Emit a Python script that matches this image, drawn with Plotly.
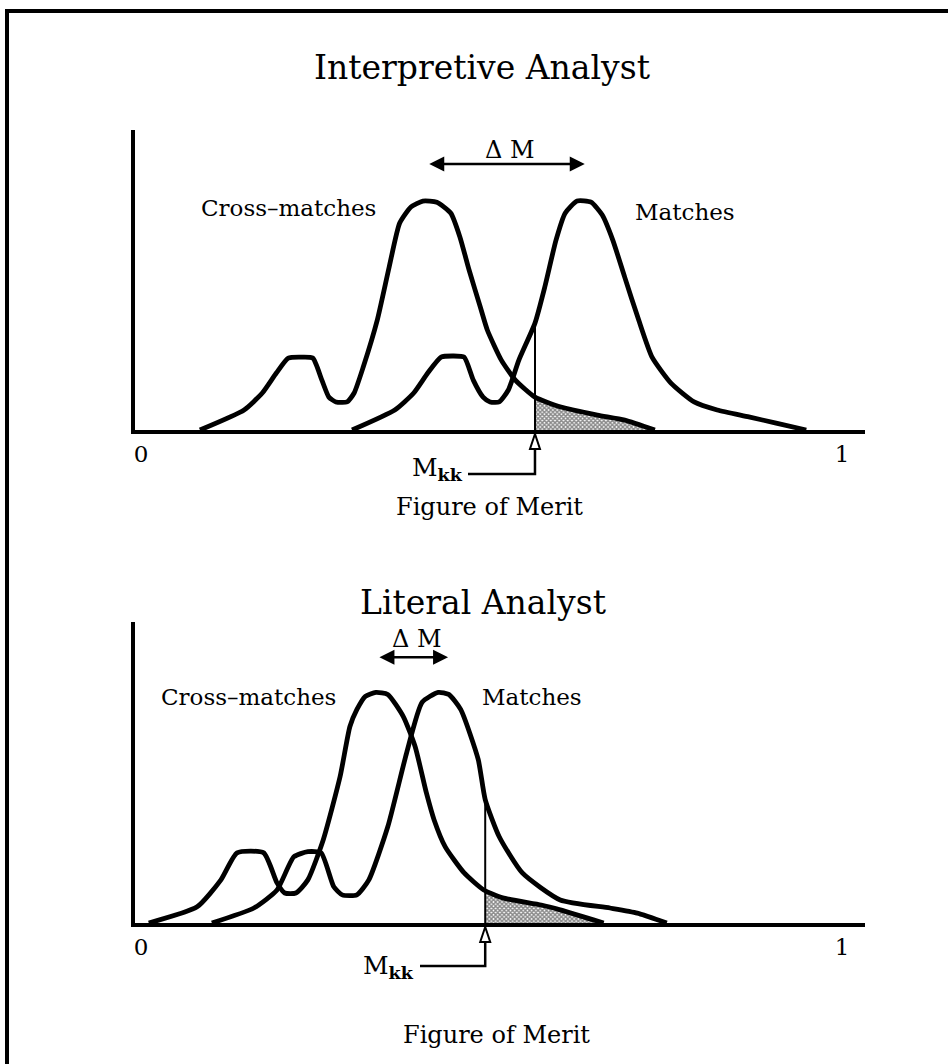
import numpy as np
import plotly.graph_objects as go

W, H = 948, 1064
FONT = "DejaVu Serif"

# ---------------- data (x: figure of merit 0..1, y: relative frequency, peak = 1) ----------------
# Top panel: Interpretive Analyst
top_cross_x = [0.084, 0.147, 0.173, 0.193, 0.210, 0.228, 0.245, 0.258, 0.268, 0.278, 0.294, 0.304,
               0.317, 0.337, 0.354, 0.369, 0.385, 0.402, 0.422, 0.442, 0.455, 0.468, 0.484, 0.494,
               0.514, 0.534, 0.562, 0.599, 0.651, 0.690, 0.733]
top_cross_y = [0.0, 0.087, 0.161, 0.248, 0.313, 0.317, 0.313, 0.217, 0.143, 0.122, 0.122, 0.161,
               0.274, 0.478, 0.709, 0.900, 0.970, 0.996, 0.991, 0.943, 0.839, 0.696, 0.535, 0.435,
               0.304, 0.217, 0.143, 0.100, 0.065, 0.043, 0.0]
top_match_x = [0.301, 0.362, 0.389, 0.409, 0.428, 0.445, 0.461, 0.474, 0.488, 0.498, 0.511, 0.524,
               0.539, 0.562, 0.576, 0.592, 0.605, 0.622, 0.642, 0.658, 0.673, 0.690, 0.710, 0.729,
               0.756, 0.789, 0.822, 0.867, 0.906, 0.949]
top_match_y = [0.0, 0.087, 0.161, 0.248, 0.317, 0.322, 0.317, 0.217, 0.143, 0.122, 0.122, 0.174,
               0.304, 0.465, 0.622, 0.826, 0.943, 0.996, 0.991, 0.935, 0.826, 0.665, 0.478, 0.317,
               0.204, 0.122, 0.087, 0.057, 0.030, 0.0]
top_mkk = 0.562
top_delta_m = [0.409, 0.633]

# Bottom panel: Literal Analyst
bot_cross_x = [0.011, 0.080, 0.114, 0.137, 0.175, 0.194, 0.205, 0.221, 0.238, 0.260, 0.284, 0.298,
               0.308, 0.320, 0.335, 0.352, 0.374, 0.391, 0.407, 0.418, 0.434, 0.461, 0.489, 0.516,
               0.571, 0.598, 0.660]
bot_cross_y = [0.0, 0.070, 0.187, 0.304, 0.304, 0.174, 0.130, 0.130, 0.187, 0.361, 0.635, 0.852,
               0.926, 0.983, 1.0, 0.991, 0.896, 0.765, 0.565, 0.448, 0.330, 0.217, 0.143, 0.109,
               0.078, 0.057, 0.0]
bot_match_x = [0.101, 0.161, 0.194, 0.218, 0.238, 0.257, 0.275, 0.287, 0.308, 0.325, 0.352, 0.379,
               0.401, 0.424, 0.439, 0.456, 0.481, 0.491, 0.511, 0.544, 0.598, 0.669, 0.708, 0.750]
bot_match_y = [0.0, 0.065, 0.143, 0.287, 0.309, 0.304, 0.157, 0.122, 0.122, 0.187, 0.417, 0.739,
               0.957, 1.0, 0.991, 0.926, 0.709, 0.535, 0.374, 0.217, 0.100, 0.065, 0.043, 0.0]
bot_mkk = 0.491
bot_delta_m = [0.338, 0.438]

tick_vals = [0, 1]
tick_text = ["0", "1"]
titles = ["Interpretive Analyst", "Literal Analyst"]

# ---------------- layout geometry (pixels) ----------------
XR = [-0.0086, 1.0328]
YR = [0, 1.305]
X_LEFT, X_RIGHT = 135, 865
PANEL_PX = {"top": (130, 430), "bot": (622, 923)}   # (top edge, baseline)

xdom = [X_LEFT / W, X_RIGHT / W]
ydom_top = [1 - PANEL_PX["top"][1] / H, 1 - PANEL_PX["top"][0] / H]
ydom_bot = [1 - PANEL_PX["bot"][1] / H, 1 - PANEL_PX["bot"][0] / H]


def x_px(x):
    return X_LEFT + (x - XR[0]) / (XR[1] - XR[0]) * (X_RIGHT - X_LEFT)


def px_x(px):  # pixel -> paper
    return px / W


def px_y(py):
    return 1 - py / H


fig = go.Figure()
LINE = dict(color="black", width=4.8, shape="spline", smoothing=0.55)

panels = [
    ("x", "y", top_cross_x, top_cross_y, top_match_x, top_match_y, top_mkk),
    ("x2", "y2", bot_cross_x, bot_cross_y, bot_match_x, bot_match_y, bot_mkk),
]

for xa, ya, cx, cy, mx, my, mkk in panels:
    cx_a, cy_a = np.array(cx), np.array(cy)
    sel = cx_a > mkk
    fx = np.concatenate([[mkk], cx_a[sel]])
    fy = np.concatenate([[np.interp(mkk, cx_a, cy_a)], cy_a[sel]])
    fig.add_trace(go.Scatter(
        x=fx, y=fy, xaxis=xa, yaxis=ya, mode="lines", fill="tozeroy",
        line=dict(width=0, color="rgba(0,0,0,0)"),
        fillcolor="rgba(0,0,0,0)",
        fillpattern=dict(shape="x", size=3, solidity=0.7, fgcolor="#111111", bgcolor="white"),
        showlegend=False, hoverinfo="skip"))
    fig.add_trace(go.Scatter(x=cx, y=cy, xaxis=xa, yaxis=ya, mode="lines", line=LINE,
                             showlegend=False, hoverinfo="skip"))
    fig.add_trace(go.Scatter(x=mx, y=my, xaxis=xa, yaxis=ya, mode="lines", line=LINE,
                             showlegend=False, hoverinfo="skip"))

axis_common = dict(showgrid=False, zeroline=False, showline=True, linecolor="black",
                   linewidth=4, fixedrange=True)
tickfont = dict(family=FONT, size=23, color="black")
fig.update_layout(
    width=W, height=H,
    margin=dict(l=0, r=0, t=0, b=0),
    paper_bgcolor="white", plot_bgcolor="white",
    xaxis=dict(domain=xdom, range=XR, anchor="y", tickvals=tick_vals, ticktext=tick_text,
               ticks="", tickfont=tickfont, **axis_common),
    yaxis=dict(domain=ydom_top, range=YR, anchor="x", showticklabels=False, ticks="", **axis_common),
    xaxis2=dict(domain=xdom, range=XR, anchor="y2", tickvals=tick_vals, ticktext=tick_text,
                ticks="", tickfont=tickfont, **axis_common),
    yaxis2=dict(domain=ydom_bot, range=YR, anchor="x2", showticklabels=False, ticks="", **axis_common),
)

shapes = []
annotations = []

# page frame (left and top border)
shapes.append(dict(type="line", xref="paper", yref="paper", x0=px_x(7), x1=px_x(7), y0=px_y(11), y1=0,
                   line=dict(color="black", width=4)))
shapes.append(dict(type="line", xref="paper", yref="paper", x0=px_x(5), x1=1, y0=px_y(11), y1=px_y(11),
                   line=dict(color="black", width=4)))


def text(t, x, y, size, xref="paper", yref="paper", **kw):
    d = dict(text=t, x=x, y=y, xref=xref, yref=yref, showarrow=False,
             xanchor="center", yanchor="middle",
             font=dict(family=FONT, size=size, color="black"))
    d.update(kw)
    annotations.append(d)


# titles
text(titles[0], px_x(482), px_y(67), 33)
text(titles[1], px_x(483), px_y(602), 33)

panel_text = [
    # key, xref, yref, match x/y, mkk, dM, cross label, match label, dM text, dM arrow y,
    # FoM pixel pos, arrow geometry (tip, head base, elbow, left end), label pixel pos
    ("top", "x", "y", top_match_x, top_match_y, top_mkk, top_delta_m, (0.210, 0.965), (0.776, 0.948),
     (0.526, 1.217), 1.157, (489, 507), (434, 449, 474, 468), (437, 469)),
    ("bot", "x2", "y2", bot_match_x, bot_match_y, bot_mkk, bot_delta_m, (0.154, 0.978), (0.558, 0.978),
     (0.394, 1.230), 1.152, (496, 1035), (927, 942, 966, 420), (388, 967)),
]

for (key, xr, yr, mx, my, mkk, dm, cl, ml, dmt, dmy, fom, arr, lab) in panel_text:
    ytop = float(np.interp(mkk, mx, my))
    # M_kk vertical line up to the Matches curve
    shapes.append(dict(type="line", xref=xr, yref=yr, x0=mkk, x1=mkk, y0=0, y1=ytop,
                       line=dict(color="black", width=2)))
    # connector below the axis (paper coordinates, derived from M_kk)
    mpx = x_px(mkk)
    tip, base, elbow, left = arr
    shapes.append(dict(type="path", xref="paper", yref="paper",
                       path=(f"M {px_x(mpx)} {px_y(base)} L {px_x(mpx)} {px_y(elbow)} "
                             f"L {px_x(left)} {px_y(elbow)}"),
                       line=dict(color="black", width=2.5)))
    shapes.append(dict(type="path", xref="paper", yref="paper",
                       path=(f"M {px_x(mpx)} {px_y(tip)} L {px_x(mpx - 5)} {px_y(base)} "
                             f"L {px_x(mpx + 5)} {px_y(base)} Z"),
                       fillcolor="white", line=dict(color="black", width=2)))
    text("M<sub><b>kk</b></sub>", px_x(lab[0]), px_y(lab[1]), 25)
    text("Cross\u2013matches", cl[0], cl[1], 23, xref=xr, yref=yr)
    text("Matches", ml[0], ml[1], 23, xref=xr, yref=yr)
    text("\u0394 M", dmt[0], dmt[1], 24, xref=xr, yref=yr)
    text("Figure of Merit", px_x(fom[0]), px_y(fom[1]), 24)
    # Delta M double arrow between the two peaks
    annotations.append(dict(text="", xref=xr, yref=yr, axref=xr, ayref=yr,
                            x=dm[1], y=dmy, ax=dm[0], ay=dmy, showarrow=True,
                            arrowhead=2, startarrowhead=2, arrowside="end+start",
                            arrowsize=1.2, startarrowsize=1.2, arrowwidth=2.5,
                            arrowcolor="black", standoff=0, startstandoff=0))

fig.update_layout(shapes=shapes, annotations=annotations)
fig.write_html("out.html", config={"displayModeBar": False},
               post_script="document.body.style.margin='0px';")
